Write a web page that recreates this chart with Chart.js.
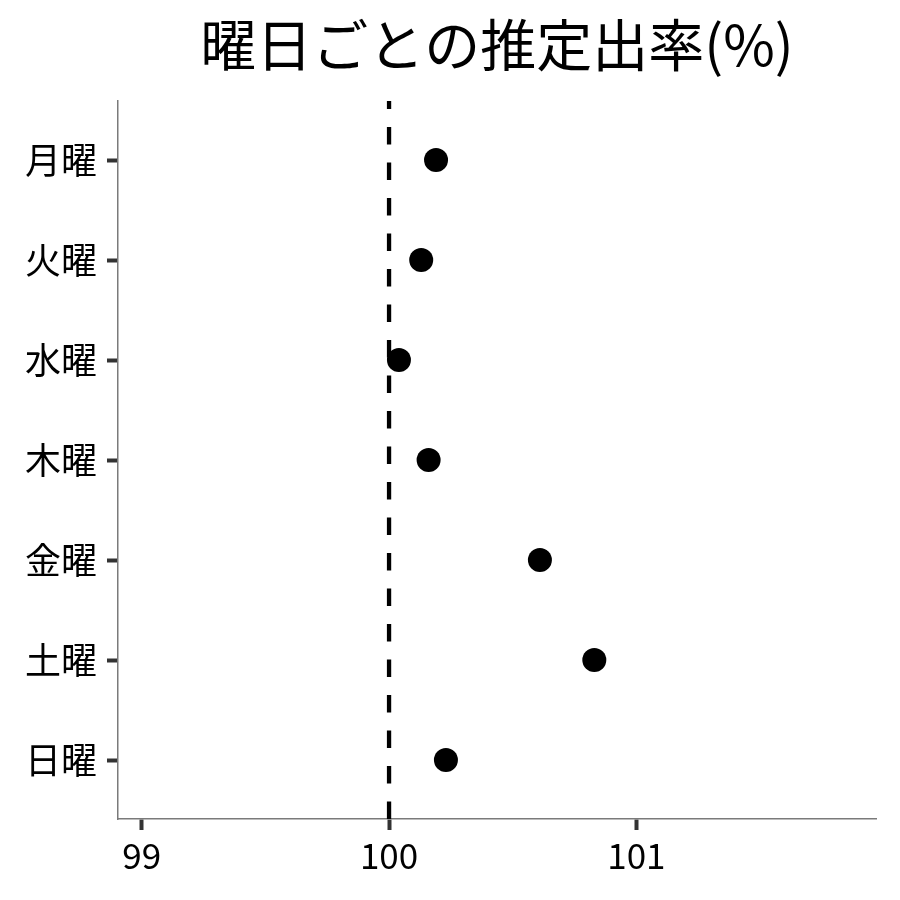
<!DOCTYPE html>
<html>
<head>
<meta charset="utf-8">
<script src="https://cdn.jsdelivr.net/npm/chart.js@4"></script>
<style>
  html, body { margin: 0; padding: 0; background: #fff; }
  #wrap { width: 900px; height: 900px; }
</style>
</head>
<body>
<div id="wrap"><canvas id="c" width="900" height="900"></canvas></div>
<script>
// === Datos ===
const titulo = "曜日ごとの推定出率(%)";
const dias = ["月曜", "火曜", "水曜", "木曜", "金曜", "土曜", "日曜"];
const tasas = [100.19, 100.13, 100.04, 100.16, 100.61, 100.83, 100.23];
const ticksX = [99, 100, 101];
const referencia = 100;

const FUENTE = "'Noto Sans CJK JP', 'Noto Sans', sans-serif";
const Y_MIN = 0.41, Y_MAX = dias.length + 0.59;

const puntos = tasas.map((v, i) => ({ x: v, y: i + 1 }));

// título centrado sobre el área del gráfico
const tituloPlugin = {
  id: "tituloArea",
  afterDraw(chart) {
    const { ctx, chartArea } = chart;
    ctx.save();
    ctx.font = "56px " + FUENTE;
    ctx.fillStyle = "#000";
    ctx.textAlign = "center";
    ctx.textBaseline = "middle";
    ctx.fillText(titulo, (chartArea.left + chartArea.right) / 2, 45);
    ctx.restore();
  }
};

const ctx = document.getElementById("c").getContext("2d");
new Chart(ctx, {
  type: "scatter",
  data: {
    datasets: [
      {
        type: "line",
        data: [{ x: referencia, y: Y_MAX }, { x: referencia, y: Y_MIN }],
        borderColor: "#000",
        borderWidth: 4.3,
        borderDash: [17.5, 18],
        pointRadius: 0,
        fill: false
      },
      {
        data: puntos,
        backgroundColor: "#000",
        borderWidth: 0,
        pointRadius: 12,
        pointHoverRadius: 12
      }
    ]
  },
  options: {
    responsive: false,
    animation: false,
    layout: { padding: { top: 101, right: 24, left: 0, bottom: 0 } },
    plugins: {
      legend: { display: false },
      tooltip: { enabled: false },
      title: { display: false }
    },
    scales: {
      x: {
        type: "linear",
        min: 98.904,
        max: 101.969,
        afterBuildTicks: s => { s.ticks = ticksX.map(v => ({ value: v })); },
        afterFit: s => { s.height = 81; },
        ticks: {
          color: "#000",
          font: { family: FUENTE, size: 35 },
          padding: 5,
          maxRotation: 0
        },
        grid: {
          drawOnChartArea: false,
          tickLength: 11,
          tickWidth: 4,
          tickColor: "#333"
        },
        border: { color: "#7a7a7a", width: 1.5 }
      },
      y: {
        type: "linear",
        reverse: true,
        min: Y_MIN,
        max: Y_MAX,
        afterBuildTicks: s => { s.ticks = dias.map((d, i) => ({ value: i + 1 })); },
        afterFit: s => { s.width = 118; },
        ticks: {
          color: "#000",
          font: { family: FUENTE, size: 36 },
          padding: 10,
          callback: v => dias[Math.round(v) - 1]
        },
        grid: {
          drawOnChartArea: false,
          tickLength: 11,
          tickWidth: 4,
          tickColor: "#333"
        },
        border: { color: "#7a7a7a", width: 1.5 }
      }
    }
  },
  plugins: [tituloPlugin]
});
</script>
</body>
</html>
